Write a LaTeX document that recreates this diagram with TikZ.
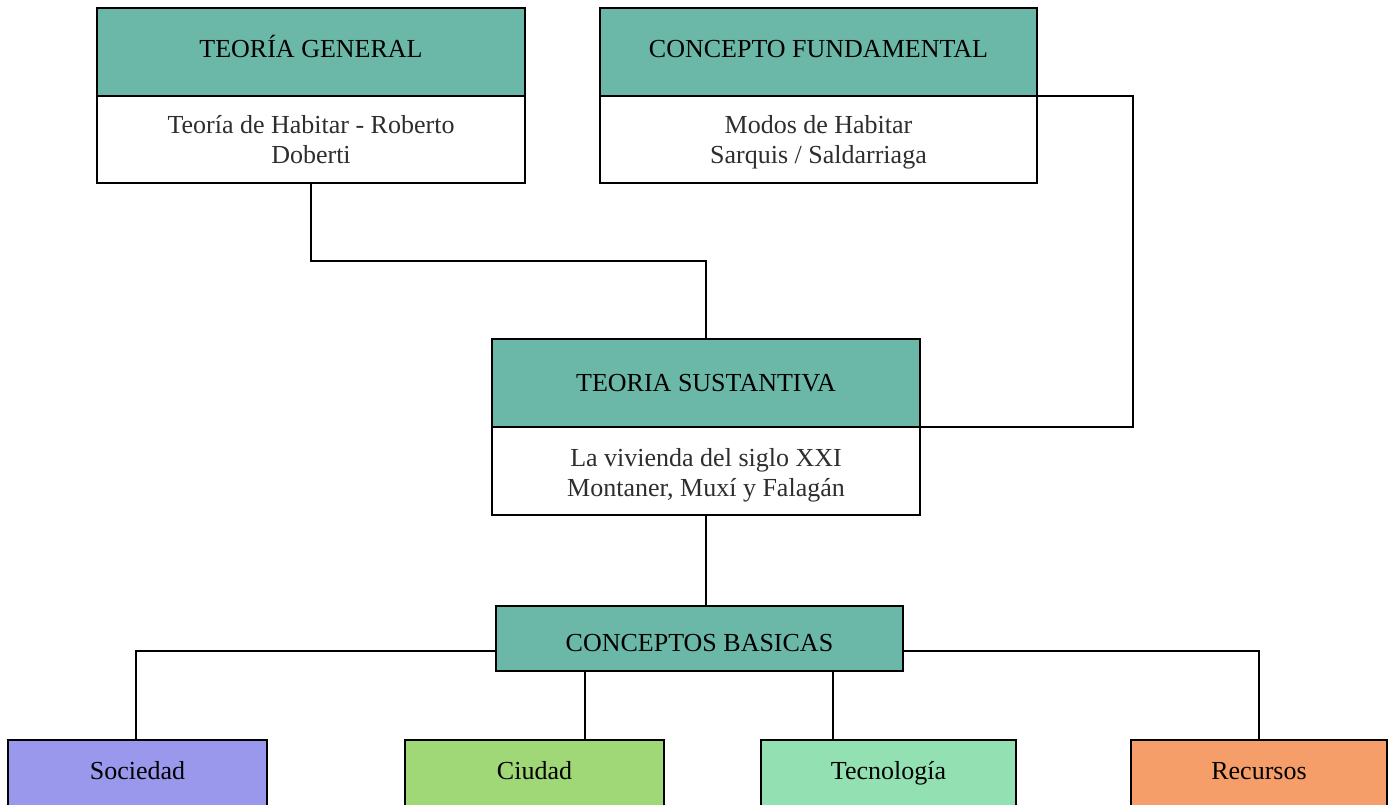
\documentclass[tikz,border=0pt]{standalone}
\usepackage{fontspec}
\setmainfont{Liberation Serif}
\begin{document}
\begin{tikzpicture}[x=1pt,y=-1pt,
  box/.style={draw=black, line width=1.6pt, anchor=north west, inner sep=0pt, outer sep=0pt, align=center, font=\fontsize{26}{30.5}\selectfont},
  one/.style={text height=17pt, text depth=5pt},
  hdr/.style={box, one, fill=tealhd, text=black},
  bdy/.style={box, fill=white, text=black!82, text depth=0pt},
  conn/.style={draw=black, line width=1.6pt},
]
\definecolor{tealhd}{HTML}{6BB8A8}
\definecolor{socc}{HTML}{9A98EC}
\definecolor{ciuc}{HTML}{A0D777}
\definecolor{tecc}{HTML}{93E0B3}
\definecolor{recc}{HTML}{F59E6A}
\useasboundingbox (0,0) rectangle (1392,805);
% top left
\node[hdr, minimum width=428pt, minimum height=88pt] (tgh) at (97,8) {TEORÍA GENERAL};
\node[bdy, minimum width=428pt, minimum height=87pt] (tgb) at (97,96) {Teoría de Habitar - Roberto\\Doberti};
% top right
\node[hdr, minimum width=437pt, minimum height=88pt] (cfh) at (600,8) {CONCEPTO FUNDAMENTAL};
\node[bdy, minimum width=437pt, minimum height=87pt] (cfb) at (600,96) {Modos de Habitar\\Sarquis / Saldarriaga};
% middle
\node[hdr, minimum width=428pt, minimum height=88pt] (tsh) at (492,339) {\raisebox{-2pt}{TEORIA SUSTANTIVA}};
\node[bdy, minimum width=428pt, minimum height=88pt] (tsb) at (492,427) {\rule{0pt}{21pt}La vivienda del siglo XXI\\Montaner, Muxí y Falagán};
% concepts
\node[hdr, minimum width=407pt, minimum height=65pt] (cb) at (496,606) {\raisebox{-7pt}{CONCEPTOS BASICAS}};
% bottom row
\node[box, one, fill=socc, minimum width=259pt, minimum height=70pt] (soc) at (8,740) {\raisebox{2pt}{Sociedad}};
\node[box, one, fill=ciuc, minimum width=259pt, minimum height=70pt] (ciu) at (405,740) {\raisebox{2pt}{Ciudad}};
\node[box, one, fill=tecc, minimum width=255pt, minimum height=70pt] (tec) at (761,740) {\raisebox{2pt}{Tecnología}};
\node[box, one, fill=recc, minimum width=256pt, minimum height=70pt] (rec) at (1131,740) {\raisebox{2pt}{Recursos}};
% connectors
\coordinate (tgmid) at (311,261);
\draw[conn] (tgb.south) -- (tgb.south |- tgmid) -| (tsh.north);
\coordinate (cfr) at (1133,96);
\draw[conn] (cfh.south east) -- (cfh.south east -| cfr) |- (tsh.south east);
\draw[conn] (tsb.south) -- (tsb.south |- cb.north);
\draw[conn] ([yshift=20pt]cb.south west) -| ([xshift=-1.5pt]soc.north);
\draw[conn] ([xshift=50.5pt]ciu.north) -- ([xshift=50.5pt]ciu.north |- cb.south);
\draw[conn] ([xshift=-55.5pt]tec.north) -- ([xshift=-55.5pt]tec.north |- cb.south);
\draw[conn] ([yshift=20pt]cb.south east) -| (rec.north);
\end{tikzpicture}
\end{document}
